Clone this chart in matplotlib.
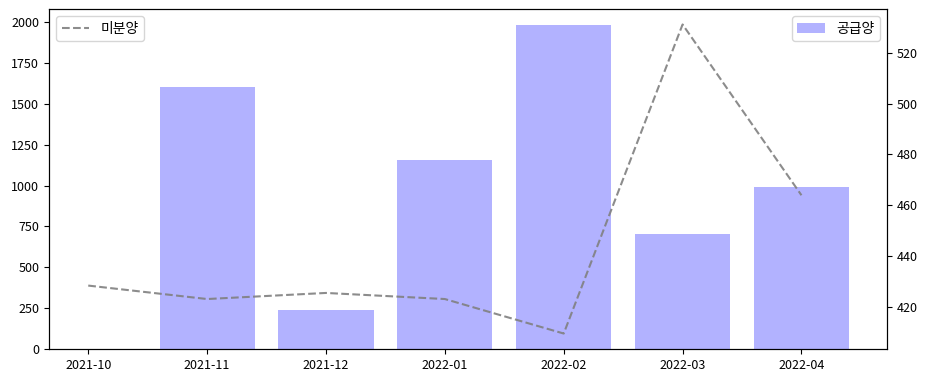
import numpy as np
import matplotlib
matplotlib.use("Agg")
import matplotlib.pyplot as plt

plt.rcParams['font.family'] = ['Noto Sans CJK KR', 'DejaVu Sans']
plt.rcParams['axes.unicode_minus'] = False

months = ['2021-10', '2021-11', '2021-12', '2022-01', '2022-02', '2022-03', '2022-04']
supply = [np.nan, 1603, 238, 1157, 1981, 703, 993]
unsold = [428.3, 423.0, 425.4, 423.0, 409.4, 531.2, 463.9]

fig = plt.figure(figsize=(9.3, 3.87), dpi=100)
ax1 = fig.add_axes([0.0527, 0.0982, 0.9011, 0.8785])
x = np.arange(len(months))
ax1.bar(x, supply, width=0.8, color='blue', alpha=0.3, label='공급양')
ax1.set_xticks(x)
ax1.set_xticklabels(months)
ax1.tick_params(labelsize=9)
ax1.legend(loc='upper right')

ax2 = ax1.twinx()
ax2.plot(x, unsold, color='gray', linestyle='--', alpha=0.9, label='미분양')
ax2.tick_params(labelsize=9)
ax2.legend(loc='upper left')
ax1.set_xlim(-0.33, 6.72)

fig.savefig('out.png', dpi=100)
